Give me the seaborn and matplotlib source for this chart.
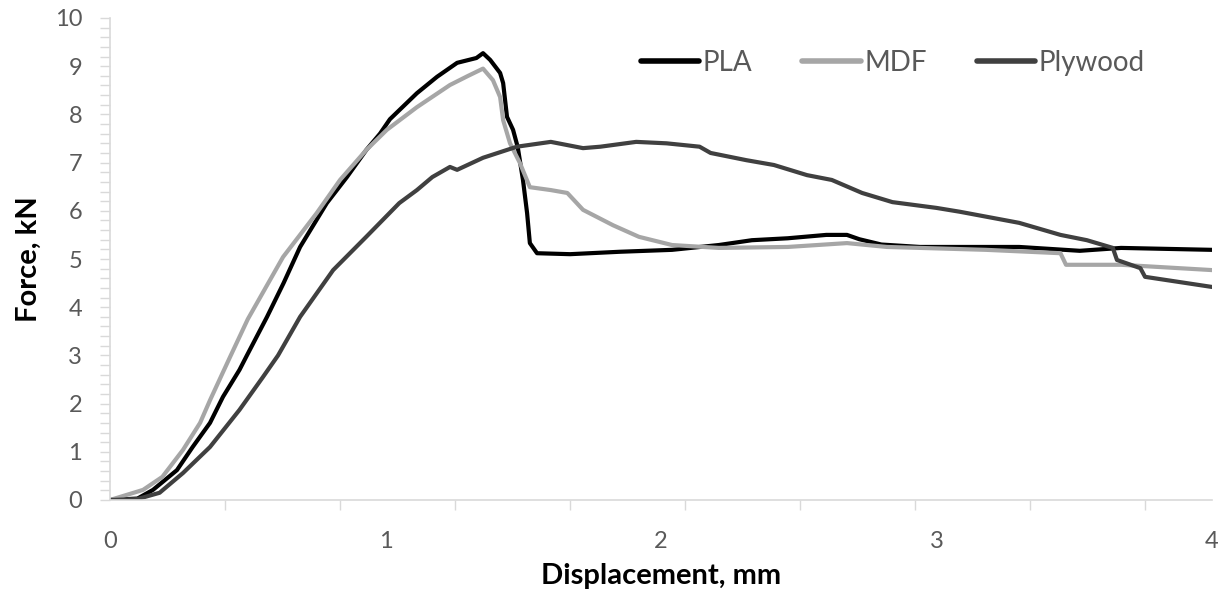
import numpy as np
import pandas as pd
import matplotlib
matplotlib.use("Agg")
import matplotlib.pyplot as plt
import seaborn as sns
from matplotlib.ticker import MultipleLocator, FixedLocator

# ---- data ----
pla_x = [0, 0.1, 0.156, 0.243, 0.30, 0.363, 0.41, 0.47, 0.497, 0.57, 0.63, 0.69, 0.787, 0.86,
         0.93, 0.98, 1.016, 1.114, 1.187, 1.26, 1.33, 1.354, 1.38, 1.416, 1.427, 1.441, 1.463,
         1.48, 1.499, 1.514, 1.524, 1.55, 1.67, 1.85, 2.04, 2.21, 2.33, 2.46, 2.6, 2.675, 2.72,
         2.80, 2.94, 3.30, 3.52, 3.67, 4.0]
pla_y = [0, 0.03, 0.21, 0.62, 1.1, 1.6, 2.14, 2.7, 3.0, 3.8, 4.5, 5.25, 6.16, 6.7,
         7.26, 7.6, 7.9, 8.44, 8.78, 9.07, 9.17, 9.27, 9.13, 8.86, 8.65, 7.95, 7.68,
         7.32, 6.64, 5.95, 5.33, 5.12, 5.10, 5.15, 5.19, 5.29, 5.39, 5.43, 5.5, 5.5, 5.41,
         5.30, 5.25, 5.25, 5.17, 5.23, 5.19]

mdf_x = [0, 0.12, 0.19, 0.265, 0.327, 0.363, 0.41, 0.436, 0.50, 0.628, 0.75, 0.835, 0.93,
         1.005, 1.114, 1.234, 1.30, 1.354, 1.39, 1.416, 1.427, 1.452, 1.488, 1.524, 1.6,
         1.66, 1.717, 1.826, 1.92, 2.04, 2.21, 2.46, 2.675, 2.82, 3.18, 3.45, 3.47, 3.67, 4.0]
mdf_y = [0, 0.21, 0.48, 1.04, 1.6, 2.07, 2.65, 2.97, 3.75, 5.04, 5.95, 6.64, 7.26,
         7.68, 8.15, 8.61, 8.80, 8.95, 8.71, 8.36, 7.88, 7.4, 6.99, 6.49, 6.43,
         6.37, 6.02, 5.70, 5.46, 5.29, 5.23, 5.25, 5.33, 5.25, 5.19, 5.12, 4.88, 4.88, 4.77]

ply_x = [0, 0.1, 0.18, 0.265, 0.363, 0.47, 0.555, 0.61, 0.69, 0.81, 0.93, 0.99, 1.05, 1.114,
         1.17, 1.234, 1.26, 1.354, 1.477, 1.6, 1.717, 1.78, 1.91, 2.02, 2.14, 2.18, 2.31,
         2.41, 2.53, 2.62, 2.73, 2.84, 3.0, 3.085, 3.30, 3.45, 3.546, 3.64, 3.655, 3.74,
         3.757, 4.0]
ply_y = [0, 0.02, 0.15, 0.56, 1.1, 1.87, 2.55, 3.0, 3.8, 4.77, 5.46, 5.81, 6.16, 6.43,
         6.7, 6.91, 6.85, 7.1, 7.33, 7.43, 7.3, 7.33, 7.43, 7.40, 7.33, 7.2, 7.05,
         6.95, 6.74, 6.64, 6.37, 6.18, 6.06, 5.98, 5.75, 5.5, 5.39, 5.23, 4.98, 4.81,
         4.63, 4.42]

series_names = ["PLA", "MDF", "Plywood"]
series_colors = ["#000000", "#a6a6a6", "#404040"]
x_labels = ["0", "1", "2", "3", "4"]

sns.set_theme(style="white")
plt.rcParams["font.family"] = ["Lato", "DejaVu Sans"]

fig = plt.figure(figsize=(12.25, 5.9), dpi=100)
ax = fig.add_axes([110/1225, 1-500/590, 1102/1225, 482/590])

data = [(pla_x, pla_y), (mdf_x, mdf_y), (ply_x, ply_y)]
for (xs, ys), name, col in zip(data, series_names, series_colors):
    df = pd.DataFrame({"x": xs, "y": ys})
    sns.lineplot(data=df, x="x", y="y", ax=ax, color=col, lw=3, label=name,
                 sort=False, estimator=None)

ax.set_xlim(0, 4)
ax.set_ylim(0, 10)

# y ticks
ax.yaxis.set_major_locator(MultipleLocator(1))
ax.yaxis.set_minor_locator(MultipleLocator(0.2))
ax.tick_params(axis="y", which="both", direction="out", length=7, width=1,
               color="#d9d9d9", left=True, labelsize=17, labelcolor="#595959", pad=13)

# x ticks: labels at integers without marks, marks at fixed spacing
ax.set_xticks([0, 1, 2, 3, 4])
ax.set_xticklabels(x_labels)
ax.xaxis.set_minor_locator(FixedLocator(np.arange(0, 4.01, 0.4174)))
ax.tick_params(axis="x", which="major", length=0, labelsize=17, labelcolor="#595959", pad=22)
ax.tick_params(axis="x", which="minor", direction="out", length=7, width=1,
               color="#d9d9d9", bottom=True)

for s in ["top", "right"]:
    ax.spines[s].set_visible(False)
for s in ["left", "bottom"]:
    ax.spines[s].set_color("#d9d9d9")
    ax.spines[s].set_linewidth(1.2)

ax.set_xlabel("Displacement, mm", fontsize=21, fontweight="bold", color="#000000")
ax.set_ylabel("Force, kN", fontsize=21, fontweight="bold", color="#000000")
ax.xaxis.set_label_coords(0.5, -0.13)
ax.yaxis.set_label_coords(-0.062, 0.5)

leg = ax.legend(loc="center left", bbox_to_anchor=(0.482, 0.907), ncol=3, frameon=False,
                fontsize=20, handlelength=2.1, handletextpad=0.12, columnspacing=1.8,
                borderpad=0, borderaxespad=0)
for t in leg.get_texts():
    t.set_color("#595959")
for h in leg.get_lines():
    h.set_linewidth(4)
    h.set_solid_capstyle("round")

fig.savefig("out.png", dpi=100)
